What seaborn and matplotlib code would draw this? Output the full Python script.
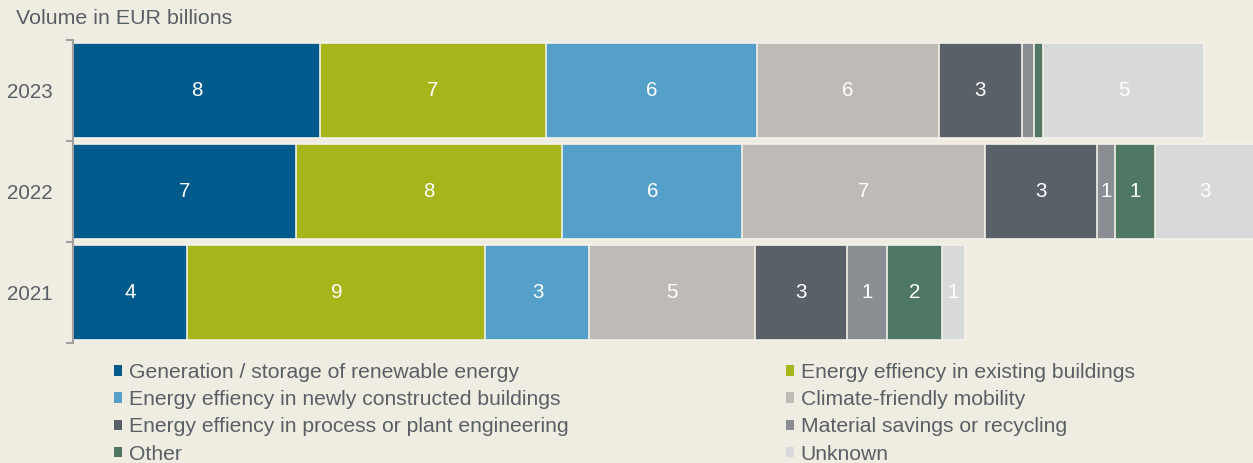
import matplotlib
matplotlib.use("Agg")
import matplotlib.pyplot as plt
from matplotlib.patches import Patch
import numpy as np
import pandas as pd
import seaborn as sns

# Green bond allocation by use of proceeds, EUR billions
years = ["2023", "2022", "2021"]
categories = [
    "Generation / storage of renewable energy",
    "Energy effiency in existing buildings",
    "Energy effiency in newly constructed buildings",
    "Climate-friendly mobility",
    "Energy effiency in process or plant engineering",
    "Material savings or recycling",
    "Other",
    "Unknown",
]
vol_2023 = [7.6, 6.95, 6.49, 5.6, 2.55, 0.38, 0.28, 4.95]
vol_2022 = [6.85, 8.2, 5.55, 7.45, 3.45, 0.57, 1.23, 3.05]
vol_2021 = [3.52, 9.17, 3.2, 5.1, 2.82, 1.23, 1.69, 0.71]

colors = ["#005a8c", "#a6b51a", "#55a0c8", "#bfbab6",
          "#5a6068", "#8a8d91", "#4e7864", "#d8d9db"]

BG = "#efede2"
TXT = "#5a5f66"
AXIS = "#a0a0a0"

sns.set_theme(style="white")
plt.rcParams["font.family"] = ["Liberation Sans", "DejaVu Sans"]

rows = []
for yr, vals in zip(years, [vol_2023, vol_2022, vol_2021]):
    cum = np.cumsum(vals)
    for cat, v, c in zip(categories, vals, cum):
        rows.append({"year": yr, "category": cat, "value": v, "cum": c})
df = pd.DataFrame(rows)

fig = plt.figure(figsize=(12.53, 4.63), dpi=100, facecolor=BG)
ax = fig.add_axes([73 / 1253, 1 - 343 / 463, 1 - 73 / 1253, (343 - 40) / 463])
ax.set_facecolor(BG)

# stacked bars: draw cumulative totals from the last segment backwards
for cat, col in reversed(list(zip(categories, colors))):
    sub = df[df["category"] == cat]
    sns.barplot(data=sub, x="cum", y="year", order=years, color=col,
                saturation=1, width=0.94, errorbar=None, orient="h",
                edgecolor="#f4f2ea", linewidth=1.2, ax=ax)

# value labels at segment centres, rounded to whole billions
ypos = {yr: i for i, yr in enumerate(years)}
for _, r in df.iterrows():
    lab = f"{r['value']:.0f}"
    if lab == "0":
        continue
    ax.text(r["cum"] - r["value"] / 2, ypos[r["year"]], lab,
            ha="center", va="center", color="white", fontsize=14.8)

ax.set_xlim(0, (1253 - 73) / 32.5)
ax.set_ylim(2.5, -0.5)
ax.set_xlabel("")
ax.set_ylabel("")
ax.set_xticks([])
ax.set_yticks(range(len(years)))
ax.set_yticklabels(years, fontsize=14.8, color=TXT)
ax.set_yticks([-0.5, 0.5, 1.5, 2.5], minor=True)
ax.tick_params(axis="y", which="major", left=False, length=0, pad=14.5)
ax.tick_params(axis="y", which="minor", left=True, length=5, width=1.5,
               color=AXIS, direction="out")
for s in ["top", "right", "bottom"]:
    ax.spines[s].set_visible(False)
ax.spines["left"].set_color(AXIS)
ax.spines["left"].set_linewidth(1.5)

fig.text(16 / 1253, 1 - 19 / 463, "Volume in EUR billions",
         ha="left", va="center", fontsize=15.4, color=TXT)

# legend: two columns, each filled top to bottom
leg_kw = dict(loc="upper left", frameon=False, fontsize=15.2, labelcolor=TXT,
              handlelength=0.4, handleheight=0.4, handletextpad=0.3,
              labelspacing=0.39, borderpad=0, borderaxespad=0)
for idx, x0 in (([0, 2, 4, 6], 114), ([1, 3, 5, 7], 786)):
    handles = [Patch(facecolor=colors[i], edgecolor="none",
                     label=categories[i]) for i in idx]
    fig.legend(handles=handles, bbox_to_anchor=(x0 / 1253, 1 - 363 / 463),
               **leg_kw)

fig.savefig("out.png", dpi=100, facecolor=BG)
